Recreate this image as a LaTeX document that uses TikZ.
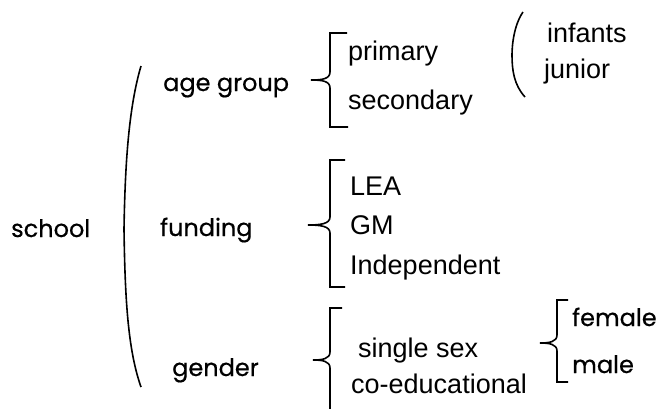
\documentclass[tikz,border=0pt]{standalone}
\usepackage{fontspec}
\setmainfont{Liberation Sans}
\newfontfamily\geofont[FakeBold=0.5]{Poppins}
\tikzset{
	head/.style={font=\geofont\fontsize{24}{28}\selectfont, anchor=base west, inner sep=0pt},
	item/.style={font=\fontsize{27}{32}\selectfont, anchor=base west, inner sep=0pt},
	brace/.style={line width=1.6pt},
}

\begin{document}
\begin{tikzpicture}[x=1pt,y=-1pt]
	\useasboundingbox (0,0) rectangle (657,408);
	% first level
	\node[head] (school) at (11,237) {school};
	\draw[brace] (141,66) .. controls (128,110) and (125,170) .. (124,229)
		.. controls (125,300) and (128,350) .. (141,387);
	\node[head] (agegroup) at (163,91) {age group};
	\node[head] (funding) at (160,236) {funding};
	\node[head] (gender) at (172,376) {gender};
	% age group
	\draw[brace] (347,33) -- (330,33) -- (330,72) .. controls (330,79) and (322,80) .. (311,80)
		.. controls (322,80) and (330,81) .. (330,88) -- (330,127) -- (348,127);
	\node[item] (primary) at (348,60) {primary};
	\node[item] (secondary) at (348,109) {secondary};
	\draw[brace] (523,12) .. controls (514,25) and (512,45) .. (512,55)
		.. controls (512,70) and (514,85) .. (525,97);
	\node[item] (infants) at (547,42) {infants};
	\node[item] (junior) at (544,78) {junior};
	% funding
	\draw[brace] (345,160) -- (330,160) -- (330,217) .. controls (330,224) and (320,225) .. (308,225)
		.. controls (320,225) and (330,226) .. (330,233) -- (330,287) -- (345,287);
	\node[item] (lea) at (350,195) {LEA};
	\node[item] (gm) at (350,234) {GM};
	\node[item] (independent) at (350,274) {Independent};
	% gender
	\draw[brace] (342,308) -- (330,308) -- (330,352) .. controls (330,359) and (322,360) .. (313,360)
		.. controls (322,360) and (330,361) .. (330,368) -- (330,410);
	\node[item] (singlesex) at (358,357) {single sex};
	\node[item] (coed) at (351,393) {co-educational};
	\draw[brace] (568,300) -- (557,300) -- (557,335) .. controls (557,342) and (549,343) .. (540,343)
		.. controls (549,343) and (557,344) .. (557,351) -- (557,382) -- (568,382);
	\node[head] (female) at (572,326) {female};
	\node[head] (male) at (572,373) {male};
\end{tikzpicture}
\end{document}
